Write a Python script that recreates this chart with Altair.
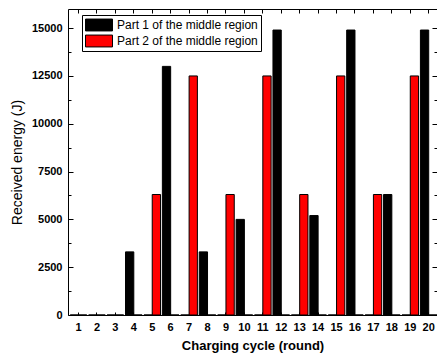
import altair as alt
import pandas as pd

rounds = list(range(1, 21))
part1 = [0, 0, 0, 3300, 0, 13000, 0, 3300, 0, 5000, 0, 14900, 0, 5200, 0, 14900, 0, 6300, 0, 14900]
part2 = [0, 0, 0, 0, 6300, 0, 12500, 0, 6300, 0, 12500, 0, 6300, 0, 12500, 0, 6300, 0, 12500, 0]
series_names = ["Part 1 of the middle region", "Part 2 of the middle region"]
series_colors = ["#000000", "#ff0000"]
major_ticks = [0, 2500, 5000, 7500, 10000, 12500, 15000]
minor_ticks = [1250, 3750, 6250, 8750, 11250, 13750]

rows = []
for r, a, b in zip(rounds, part1, part2):
    rows.append({"round": r, "series": series_names[0], "energy": a})
    rows.append({"round": r, "series": series_names[1], "energy": b})
df = pd.DataFrame(rows)

FONT = "Liberation Sans"
xscale = alt.Scale(paddingInner=0.1, paddingOuter=0.06, align=1)
yscale = alt.Scale(domain=[0, 16000], nice=False)

base = alt.Chart(df)

bars = base.mark_bar(stroke="black", strokeWidth=1).encode(
    x=alt.X("round:O", sort=rounds, scale=xscale,
            axis=alt.Axis(orient="bottom", ticks=False, tickSize=0, domain=False, labelAngle=0,
                          labelFont=FONT, labelFontSize=11, labelFontWeight="bold",
                          labelColor="black", labelPadding=6,
                          title="Charging cycle (round)", titleFont=FONT, titleFontSize=13,
                          titleFontWeight="bold", titleColor="black", titlePadding=7)),
    xOffset=alt.XOffset("series:N", sort=series_names),
    y=alt.Y("energy:Q", scale=yscale,
            axis=alt.Axis(orient="left", values=major_ticks, format="d", ticks=False,
                          tickSize=0, domain=False, grid=False,
                          labelFont=FONT, labelFontSize=11, labelFontWeight="bold",
                          labelColor="black", labelPadding=6,
                          title="Received energy (J)", titleFont=FONT, titleFontSize=14,
                          titleFontWeight="normal", titleColor="black", titlePadding=7)),
    color=alt.Color("series:N", scale=alt.Scale(domain=series_names, range=series_colors),
                    legend=alt.Legend(title=None, orient="none", legendX=14, legendY=6,
                                      fillColor="white", strokeColor="black", padding=3,
                                      symbolType="M-1,-0.44H1V0.44H-1Z", symbolSize=729,
                                      symbolStrokeColor="black", symbolStrokeWidth=1,
                                      symbolOpacity=1, clipHeight=14,
                                      labelFont=FONT, labelFontSize=12, labelColor="black",
                                      labelOffset=4, rowPadding=2)),
)


def tick_layer(x_axis, y_axis):
    return base.mark_bar(opacity=0).encode(
        x=alt.X("round:O", sort=rounds, scale=xscale, axis=x_axis),
        y=alt.Y("energy:Q", scale=yscale, stack=None, axis=y_axis),
    )


def yticks(orient, values, size):
    return alt.Axis(orient=orient, values=values, labels=False, domain=False, grid=False,
                    ticks=True, tickSize=size, offset=-size, tickColor="black", title=None,
                    minExtent=0, maxExtent=0)


def xticks(orient, size):
    return alt.Axis(orient=orient, labels=False, domain=False, grid=False,
                    ticks=True, tickSize=size, offset=-size, tickColor="black", title=None,
                    minExtent=0, maxExtent=0)


l2 = tick_layer(xticks("top", 4), yticks("right", major_ticks, 5))
l3 = tick_layer(xticks("bottom", 3), yticks("left", major_ticks, 5))
l4 = tick_layer(None, yticks("left", minor_ticks, 3))
l5 = tick_layer(None, yticks("right", minor_ticks, 3))

chart = alt.layer(bars, l2, l3, l4, l5).resolve_axis(
    x="independent", y="independent"
).properties(
    width=369, height=306,
    autosize=alt.AutoSizeParams(type="none"),
    padding={"left": 60, "right": 0, "top": 1, "bottom": 38},
    background="white",
).configure_view(stroke="black", strokeWidth=1)

chart.save("out.html", embed_options={"renderer": "svg", "actions": False})
